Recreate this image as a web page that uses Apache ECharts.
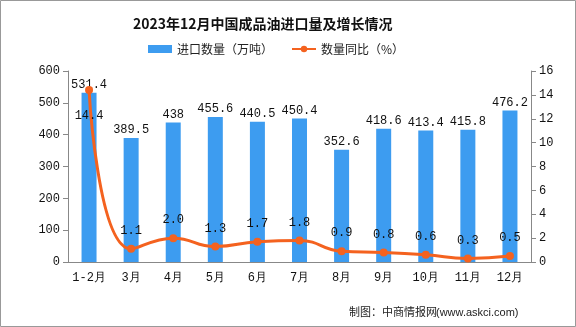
<!DOCTYPE html>
<html><head><meta charset="utf-8">
<script src="https://cdn.jsdelivr.net/npm/echarts@6/dist/echarts.min.js"></script>
<style>html,body{margin:0;padding:0;background:#fff}#c{width:576px;height:327px}</style>
</head><body><div id="c"></div>
<script>
const categories = ['1-2月','3月','4月','5月','6月','7月','8月','9月','10月','11月','12月'];
const importVolume = [531.4, 389.5, 438, 455.6, 440.5, 450.4, 352.6, 418.6, 413.4, 415.8, 476.2];
const growth = [14.4, 1.1, 2.0, 1.3, 1.7, 1.8, 0.9, 0.8, 0.6, 0.3, 0.5];
const leftTicks = [0, 600, 100];
const rightTicks = [0, 16, 2];

const chart = echarts.init(document.getElementById('c'));
const numFont = 'Liberation Mono, DejaVu Sans Mono, monospace';
const cjk = 'Noto Sans CJK SC, sans-serif';
chart.setOption({
  animation: false,
  graphic: [
    {type:'rect', shape:{x:0.5,y:0.5,width:575,height:326}, style:{fill:'none', stroke:'#999', lineWidth:1}},
    {type:'text', left: 349, top: 306, style:{text:'制图：中商情报网', font:'11px Noto Sans CJK SC', fill:'#222'}},
    {type:'text', left: 436, top: 307, style:{text:'(www.askci.com)', font:'11px Liberation Sans', fill:'#222'}}
  ],
  title: {text:'2023年12月中国成品油进口量及增长情况', left:128, top:12,
    textStyle:{fontFamily:cjk, fontSize:14, fontWeight:'bold', color:'#111'}},
  legend: {top:38, left:143, itemGap:18, itemWidth:24, itemHeight:8,
    textStyle:{fontFamily:cjk, fontSize:12, color:'#222'},
    data:[{name:'进口数量（万吨）', icon:'rect'}, {name:'数量同比（%）'}]},
  grid: {left:68, right:45, top:71, bottom:65},
  xAxis: {type:'category', data:categories,
    axisLine:{lineStyle:{color:'#888'}}, axisTick:{alignWithLabel:false, lineStyle:{color:'#888'}},
    axisLabel:{color:'#111', fontFamily:numFont, fontSize:12, margin:10, interval:0}},
  yAxis: [
    {type:'value', min:leftTicks[0], max:leftTicks[1], interval:leftTicks[2], splitLine:{show:false},
      axisLine:{show:true, lineStyle:{color:'#888'}}, axisTick:{show:true, lineStyle:{color:'#888'}},
      axisLabel:{color:'#111', fontFamily:numFont, fontSize:12}},
    {type:'value', min:rightTicks[0], max:rightTicks[1], interval:rightTicks[2], splitLine:{show:false},
      axisLine:{show:true, lineStyle:{color:'#888'}}, axisTick:{show:true, lineStyle:{color:'#888'}},
      axisLabel:{color:'#111', fontFamily:numFont, fontSize:12}}
  ],
  series: [
    {name:'进口数量（万吨）', type:'bar', data:importVolume, barWidth:15,
      itemStyle:{color:'#3d9cf0'},
      label:{show:true, position:'top', color:'#111', fontFamily:numFont, fontSize:12, distance:2}},
    {name:'数量同比（%）', type:'line', yAxisIndex:1, smooth:true,
      data: growth.map((v,i)=> i===0 ? {value:v, label:{position:'bottom', distance:16}} : v),
      symbol:'circle', symbolSize:8,
      lineStyle:{color:'#f4621f', width:3}, itemStyle:{color:'#f4621f'},
      label:{show:true, position:'top', color:'#111', fontFamily:numFont, fontSize:12, distance:8,
        formatter: p => Number(p.value).toFixed(1)}}
  ]
});
</script></body></html>
